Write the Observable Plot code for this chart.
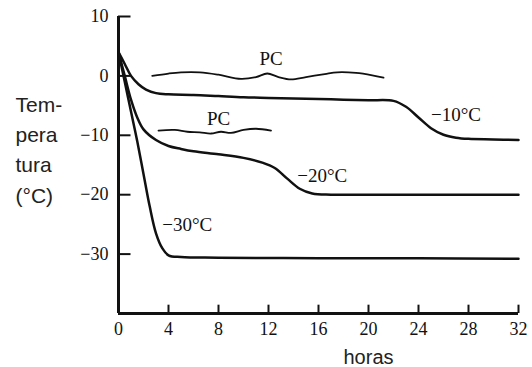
<!DOCTYPE html>
<html><head><meta charset="utf-8">
<script src="https://cdn.jsdelivr.net/npm/d3@7"></script>
<script src="https://cdn.jsdelivr.net/npm/@observablehq/plot@0.6"></script>
<style>body{margin:0;background:#fff}</style>
</head><body><div id="chart"></div>
<script>
const xTicks = [0, 4, 8, 12, 16, 20, 24, 28, 32];
const yTicks = [10, 0, -10, -20, -30];

const hours10 = [0, 0.5, 1, 1.6, 2.2, 3, 4, 6, 8, 10, 12, 14, 16, 18, 20, 22, 23, 24, 25, 26, 27, 28, 30, 32];
const temp10  = [4, 2, 0, -1.4, -2.3, -2.9, -3.1, -3.2, -3.4, -3.6, -3.7, -3.8, -3.9, -4.0, -4.1, -4.2, -5.2, -7.0, -8.8, -9.9, -10.4, -10.6, -10.7, -10.8];

const hours20 = [0, 0.5, 1, 1.5, 2, 3, 4, 5, 6, 8, 10, 11.5, 12.5, 13.5, 14.5, 15.5, 17, 20, 24, 28, 32];
const temp20  = [4, 0, -4, -7, -9, -10.8, -11.8, -12.3, -12.7, -13.2, -13.8, -14.6, -15.5, -17.3, -19, -19.8, -20, -20, -20, -20, -20];

const hours30 = [0, 0.5, 1, 1.5, 2, 2.5, 3, 3.5, 4, 5, 8, 16, 24, 32];
const temp30  = [4, -1, -6, -11, -16.5, -22, -26.5, -29, -30.2, -30.5, -30.6, -30.7, -30.7, -30.8];

const hoursPC1 = [2.7, 4, 5, 6.5, 8, 9.8, 11, 11.9, 12.8, 13.8, 15, 16.5, 17.5, 19, 20.3, 21.2];
const tempPC1  = [0, 0.4, 0.6, 0.6, 0.2, -0.5, -0.2, 0.4, -0.2, -0.6, -0.2, 0.3, 0.6, 0.5, 0.1, -0.3];

const hoursPC2 = [3.2, 4.5, 5.5, 6.5, 7.4, 8.2, 9, 10, 11, 12.2];
const tempPC2  = [-9.2, -9.1, -9.4, -9.5, -9.7, -9.4, -9.6, -9.1, -8.9, -9.2];

const seriesNames = ["−10°C", "−20°C", "−30°C"];
const labelHours = [25, 14.3, 3.5];
const labelTemps = [-6.6, -16.8, -25.1];

const pcNames = ["PC", "PC"];
const pcLabelHours = [12.2, 8];
const pcLabelTemps = [2.9, -7.2];

const yTitle = "Tem-\npera\ntura\n(°C)";
const xTitle = "horas";

const rows = (hs, ts, s) => hs.map((h, i) => ({h, t: ts[i], s}));
const curves = [
  ...rows(hours10, temp10, "a"),
  ...rows(hours20, temp20, "b"),
  ...rows(hours30, temp30, "c")
];
const pcs = [...rows(hoursPC1, tempPC1, "p1"), ...rows(hoursPC2, tempPC2, "p2")];
const seriesLabels = seriesNames.map((n, i) => ({h: labelHours[i], t: labelTemps[i], n}));
const pcLabels = pcNames.map((n, i) => ({h: pcLabelHours[i], t: pcLabelTemps[i], n}));

const serif = "'Liberation Serif', 'DejaVu Serif', serif";
const sans = "'Liberation Sans', Arial, sans-serif";

const chart = Plot.plot({
  width: 532, height: 367,
  marginLeft: 118, marginRight: 14, marginTop: 16, marginBottom: 54,
  x: {domain: [0, 32]},
  y: {domain: [-40, 10]},
  style: {fontFamily: serif, fontSize: "18px", color: "#111", background: "white"},
  marks: [
    Plot.axisX({ticks: xTicks, tickSize: 0, tickPadding: 9, label: null, fontSize: 18, tickFormat: d => String(d)}),
    Plot.axisY({ticks: yTicks, tickSize: 0, tickPadding: 10, label: null, fontSize: 18, tickFormat: d => d < 0 ? "−" + Math.abs(d) : String(d)}),
    Plot.ruleX(xTicks, {y1: -40, y2: -38.6, strokeWidth: 2, stroke: "#111"}),
    Plot.ruleY(yTicks, {x1: 0, x2: 1, strokeWidth: 2, stroke: "#111"}),
    Plot.ruleX([0], {y1: -40, y2: 10, strokeWidth: 3, stroke: "#111"}),
    Plot.ruleY([-40], {x1: 0, x2: 32, strokeWidth: 3, stroke: "#111"}),
    Plot.line(curves, {x: "h", y: "t", z: "s", curve: "catmull-rom", stroke: "#111", strokeWidth: 2.5}),
    Plot.line(pcs, {x: "h", y: "t", z: "s", curve: "catmull-rom", stroke: "#111", strokeWidth: 1.8}),
    Plot.text(seriesLabels, {x: "h", y: "t", text: "n", textAnchor: "start", fontSize: 19, fill: "#111"}),
    Plot.text(pcLabels, {x: "h", y: "t", text: "n", textAnchor: "middle", fontSize: 19, fill: "#111"}),
    Plot.text([yTitle], {frameAnchor: "left", dx: -103, dy: -17.5, textAnchor: "start", lineHeight: 1.45, fontSize: 21, fontFamily: sans, fill: "#222"}),
    Plot.text([{h: 20}], {x: "h", frameAnchor: "bottom", dy: 50, lineAnchor: "bottom", text: () => xTitle, fontSize: 20, fontFamily: sans, fill: "#222"})
  ]
});
document.getElementById("chart").appendChild(chart);
</script>
</body></html>
